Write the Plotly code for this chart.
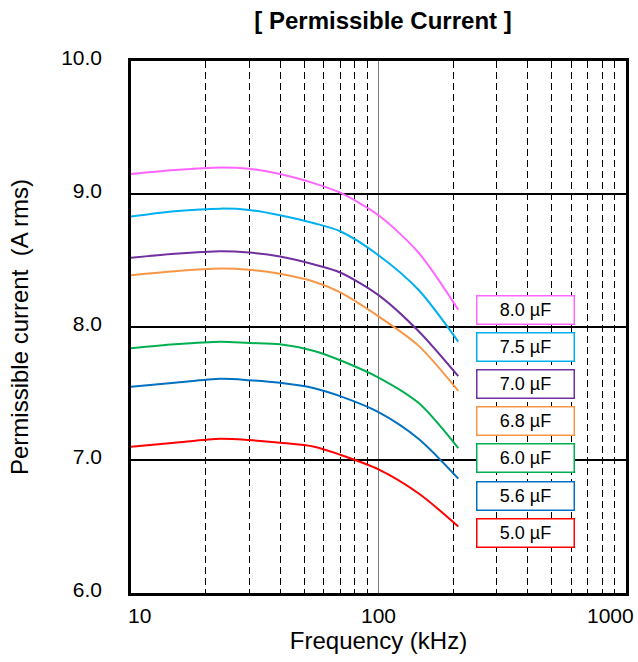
import math
import plotly.graph_objects as go

# Frequency points (kHz)
freq_khz = [10, 15, 23, 30, 40, 55, 70, 100, 145, 210]

# Permissible current (A rms) per capacitance
cap_labels = ["8.0 µF", "7.5 µF", "7.0 µF", "6.8 µF", "6.0 µF", "5.6 µF", "5.0 µF"]
i_8_0 = [9.15, 9.18, 9.20, 9.19, 9.15, 9.08, 9.01, 8.84, 8.56, 8.13]
i_7_5 = [8.83, 8.87, 8.89, 8.88, 8.84, 8.78, 8.72, 8.54, 8.28, 7.89]
i_7_0 = [8.52, 8.55, 8.57, 8.56, 8.53, 8.47, 8.41, 8.24, 7.97, 7.63]
i_6_8 = [8.39, 8.42, 8.44, 8.43, 8.40, 8.34, 8.26, 8.08, 7.86, 7.52]
i_6_0 = [7.84, 7.87, 7.89, 7.88, 7.87, 7.82, 7.75, 7.62, 7.43, 7.09]
i_5_6 = [7.55, 7.58, 7.61, 7.60, 7.58, 7.54, 7.48, 7.36, 7.16, 6.86]
i_5_0 = [7.10, 7.13, 7.16, 7.15, 7.13, 7.10, 7.04, 6.93, 6.75, 6.50]
series = [i_8_0, i_7_5, i_7_0, i_6_8, i_6_0, i_5_6, i_5_0]
colors = ["#FF66FF", "#00B0F0", "#7030A0", "#F79646", "#00B050", "#0070C0", "#FF0000"]

y_ticks = [6, 7, 8, 9, 10]
x_ticks = [10, 100, 1000]
x_tick_text = ["10", "100", "1000"]

FONT = "Liberation Sans, Arial, sans-serif"

fig = go.Figure()
for name, vals, col in zip(cap_labels, series, colors):
    fig.add_trace(go.Scatter(x=freq_khz, y=vals, mode="lines", name=name,
                             line=dict(color=col, width=2, shape="spline", smoothing=0.8),
                             showlegend=False))

# Legend boxes as annotations (label boxes on the right)
top_c = (594 - 310) / 533.0
step = 37.3 / 533.0
for k, (name, col) in enumerate(zip(cap_labels, colors)):
    fig.add_annotation(xref="paper", yref="paper", x=0.797, y=top_c - k * step,
                       xanchor="center", yanchor="middle", text=name, showarrow=False,
                       font=dict(family=FONT, size=18, color="black"),
                       bgcolor="white", bordercolor=col, borderwidth=1.5,
                       width=96, height=27, borderpad=0)

# X tick labels kept inside the chart area (Excel style)
x_shifts = [8, 0, -16]
for v, t, sh in zip(x_ticks, x_tick_text, x_shifts):
    fig.add_annotation(xref="x", yref="paper", x=math.log10(v), y=0, xanchor="center",
                       yanchor="top", yshift=-9, xshift=sh, text=t, showarrow=False,
                       font=dict(family=FONT, size=21, color="black"))

minor_vals = [m * d for d in (10, 100) for m in range(2, 10)]

fig.update_layout(
    width=638, height=662,
    margin=dict(l=131, r=12, t=61, b=69, autoexpand=False),
    paper_bgcolor="white", plot_bgcolor="white",
    font=dict(family=FONT, color="black"),
    title=dict(text="<b>[ Permissible Current ]</b>", x=383 / 638,
               xanchor="center", y=1 - 21 / 662, yanchor="middle",
               font=dict(family=FONT, size=24, color="black")),
    xaxis=dict(type="log", range=[1, 3], tickvals=x_ticks, showticklabels=False,
               automargin=False,
               showgrid=True, gridcolor="#808080", gridwidth=1,
               minor=dict(tickvals=minor_vals, showgrid=True, gridcolor="black",
                          gridwidth=1.3, griddash="7px,4px", ticks=""),
               showline=True, linecolor="black", linewidth=2.5, mirror=True,
               ticks="", zeroline=False,
               title=dict(text="Frequency (kHz)", standoff=38,
                          font=dict(family=FONT, size=24, color="black"))),
    yaxis=dict(range=[6, 10], tickvals=y_ticks, ticktext=[f"{v:.1f}" for v in y_ticks],
               automargin=False,
               showgrid=True, gridcolor="black", gridwidth=1.6,
               showline=True, linecolor="black", linewidth=2.5, mirror=True,
               ticks="", ticklabelstandoff=22, ticklabelshift=-3, zeroline=False,
               tickfont=dict(family=FONT, size=21, color="black"),
               title=dict(text="Permissible current&nbsp; (A rms)", standoff=26,
                          font=dict(family=FONT, size=24, color="black"))),
)

fig.write_html(
    "out.html",
    config={"displayModeBar": False},
    post_script="document.body.style.margin='0';document.body.style.overflow='hidden';"
                "document.documentElement.style.overflow='hidden';",
)
